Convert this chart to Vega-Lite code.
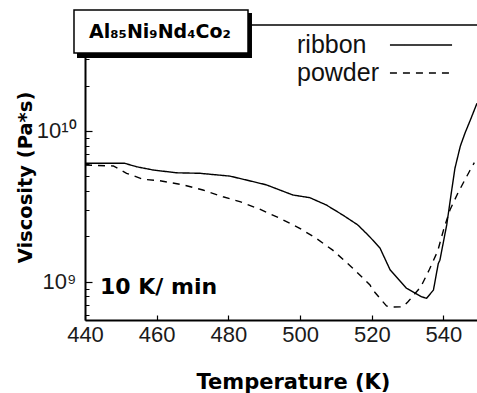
{
  "$schema": "https://vega.github.io/schema/vega-lite/v6.json",
  "width": 392,
  "height": 295,
  "autosize": {"type": "none"},
  "padding": {"left": 85, "top": 25, "right": 0, "bottom": 73},
  "background": "white",
  "config": {"view": {"stroke": null}, "font": "Liberation Sans"},
  "datasets": {
    "curves": [
      {"sample": "ribbon", "T": 440.0, "eta": 6.11e9},
      {"sample": "ribbon", "T": 451.0, "eta": 6.11e9},
      {"sample": "ribbon", "T": 454.4, "eta": 5.79e9},
      {"sample": "ribbon", "T": 459.0, "eta": 5.51e9},
      {"sample": "ribbon", "T": 465.5, "eta": 5.28e9},
      {"sample": "ribbon", "T": 472.0, "eta": 5.24e9},
      {"sample": "ribbon", "T": 480.4, "eta": 5.02e9},
      {"sample": "ribbon", "T": 485.0, "eta": 4.73e9},
      {"sample": "ribbon", "T": 490.6, "eta": 4.39e9},
      {"sample": "ribbon", "T": 498.0, "eta": 3.76e9},
      {"sample": "ribbon", "T": 502.7, "eta": 3.61e9},
      {"sample": "ribbon", "T": 507.3, "eta": 3.23e9},
      {"sample": "ribbon", "T": 511.9, "eta": 2.77e9},
      {"sample": "ribbon", "T": 516.1, "eta": 2.38e9},
      {"sample": "ribbon", "T": 519.4, "eta": 1.99e9},
      {"sample": "ribbon", "T": 522.3, "eta": 1.67e9},
      {"sample": "ribbon", "T": 525.1, "eta": 1.2e9},
      {"sample": "ribbon", "T": 529.7, "eta": 9.04e8},
      {"sample": "ribbon", "T": 533.9, "eta": 7.94e8},
      {"sample": "ribbon", "T": 535.3, "eta": 7.76e8},
      {"sample": "ribbon", "T": 537.2, "eta": 8.81e8},
      {"sample": "ribbon", "T": 538.55, "eta": 1.32e9},
      {"sample": "ribbon", "T": 539.0, "eta": 1.39e9},
      {"sample": "ribbon", "T": 540.9, "eta": 2.38e9},
      {"sample": "ribbon", "T": 542.3, "eta": 4.06e9},
      {"sample": "ribbon", "T": 543.2, "eta": 5.66e9},
      {"sample": "ribbon", "T": 544.7, "eta": 7.94e9},
      {"sample": "ribbon", "T": 546.0, "eta": 9.68e9},
      {"sample": "ribbon", "T": 547.5, "eta": 1.183e10},
      {"sample": "ribbon", "T": 549.35, "eta": 1.528e10},
      {"sample": "powder", "T": 440.0, "eta": 5.94e9},
      {"sample": "powder", "T": 447.9, "eta": 5.86e9},
      {"sample": "powder", "T": 451.6, "eta": 5.24e9},
      {"sample": "powder", "T": 456.2, "eta": 4.78e9},
      {"sample": "powder", "T": 460.9, "eta": 4.68e9},
      {"sample": "powder", "T": 467.4, "eta": 4.39e9},
      {"sample": "powder", "T": 472.9, "eta": 4.06e9},
      {"sample": "powder", "T": 478.5, "eta": 3.66e9},
      {"sample": "powder", "T": 483.2, "eta": 3.4e9},
      {"sample": "powder", "T": 488.7, "eta": 3.03e9},
      {"sample": "powder", "T": 494.3, "eta": 2.64e9},
      {"sample": "powder", "T": 499.9, "eta": 2.26e9},
      {"sample": "powder", "T": 504.5, "eta": 1.94e9},
      {"sample": "powder", "T": 509.1, "eta": 1.62e9},
      {"sample": "powder", "T": 514.7, "eta": 1.23e9},
      {"sample": "powder", "T": 519.5, "eta": 9.51e8},
      {"sample": "powder", "T": 520.3, "eta": 8.81e8},
      {"sample": "powder", "T": 524.1, "eta": 6.9e8},
      {"sample": "powder", "T": 525.5, "eta": 6.79e8},
      {"sample": "powder", "T": 528.0, "eta": 6.82e8},
      {"sample": "powder", "T": 528.9, "eta": 6.9e8},
      {"sample": "powder", "T": 530.1, "eta": 7.36e8},
      {"sample": "powder", "T": 533.7, "eta": 9.27e8},
      {"sample": "powder", "T": 536.1, "eta": 1.21e9},
      {"sample": "powder", "T": 538.4, "eta": 1.6e9},
      {"sample": "powder", "T": 540.0, "eta": 2.2e9},
      {"sample": "powder", "T": 541.8, "eta": 2.99e9},
      {"sample": "powder", "T": 544.1, "eta": 3.91e9},
      {"sample": "powder", "T": 547.3, "eta": 5.43e9},
      {"sample": "powder", "T": 548.6, "eta": 6.17e9}
    ]
  },
  "resolve": {"axis": {"y": "independent", "x": "independent"}},
  "layer": [
    {
      "data": {"values": [{}]},
      "mark": {"type": "rule", "color": "black", "strokeWidth": 1.5},
      "encoding": {
        "y": {
          "datum": 5.05e10,
          "type": "quantitative",
          "axis": {
            "orient": "left",
            "values": [6e8, 7e8, 8e8, 9e8, 2e9, 3e9, 4e9, 5e9, 6e9, 7e9, 8e9, 9e9, 2e10, 3e10, 4e10],
            "labels": false,
            "domain": false,
            "grid": false,
            "title": null,
            "tickSize": -4,
            "tickColor": "black",
            "tickWidth": 1
          }
        }
      }
    },
    {
      "data": {"name": "curves"},
      "mark": {"type": "line", "color": "black", "strokeWidth": 1.4},
      "encoding": {
        "x": {
          "field": "T",
          "type": "quantitative",
          "scale": {"domain": [440, 549.35], "nice": false, "zero": false},
          "axis": {
            "orient": "bottom",
            "values": [440, 460, 480, 500, 520, 540],
            "title": "Temperature (K)",
            "titleFont": "DejaVu Sans",
            "titleFontWeight": "bold",
            "titleFontSize": 21,
            "titleColor": "black",
            "titleX": 208,
            "titleY": 68,
            "titleAlign": "center",
            "titleBaseline": "alphabetic",
            "labelFont": "Liberation Sans",
            "labelFontSize": 22,
            "labelColor": "#1a1a1a",
            "labelPadding": 9,
            "labelFlush": false,
            "tickSize": -5,
            "tickColor": "black",
            "tickWidth": 1.2,
            "domainColor": "black",
            "domainWidth": 2,
            "grid": false
          }
        },
        "y": {
          "field": "eta",
          "type": "quantitative",
          "scale": {"type": "log", "domain": [5.57e8, 5.05e10], "nice": false},
          "axis": {
            "orient": "left",
            "values": [1e9, 1e10],
            "labelExpr": "datum.value < 5e9 ? '10⁹' : '10¹⁰'",
            "title": "Viscosity (Pa*s)",
            "titleFont": "DejaVu Sans",
            "titleFontWeight": "bold",
            "titleFontSize": 19.5,
            "titleColor": "black",
            "titleX": -60,
            "titleY": 152,
            "titleAngle": -90,
            "titleAlign": "center",
            "titleBaseline": "middle",
            "labelFont": "Liberation Sans",
            "labelFontSize": 22,
            "labelColor": "#1a1a1a",
            "labelPadding": 16,
            "tickSize": -7,
            "tickColor": "black",
            "tickWidth": 1.2,
            "domainColor": "black",
            "domainWidth": 2,
            "grid": false
          }
        },
        "strokeDash": {
          "field": "sample",
          "type": "nominal",
          "scale": {"domain": ["ribbon", "powder"], "range": [[1, 0], [7, 6]]},
          "legend": {
            "title": null,
            "orient": "none",
            "legendX": 321.5,
            "legendY": 5.5,
            "padding": 0,
            "offset": 0,
            "rowPadding": 0,
            "symbolType": "M -2.3 0 L 2.3 0",
            "symbolSize": 729,
            "symbolStrokeWidth": 1.4,
            "symbolStrokeColor": "black",
            "symbolFillColor": "transparent",
            "labelFont": "Liberation Sans",
            "labelFontSize": 25,
            "labelColor": "#111111",
            "labelOffset": -138.5,
            "labelAlign": "left",
            "labelBaseline": "middle",
            "encode": {
              "symbols": {
                "update": {
                  "strokeDash": {"signal": "datum.value === 'powder' ? [3, 2.5] : [1, 0]"}
                }
              }
            }
          }
        }
      }
    },
    {
      "data": {"values": [{}]},
      "mark": {"type": "rect", "color": "black"},
      "encoding": {
        "x": {"datum": 437.77, "type": "quantitative", "axis": null},
        "x2": {"datum": 486.58},
        "y": {"datum": 6.067e10, "type": "quantitative", "axis": null},
        "y2": {"datum": 3.051e10}
      }
    },
    {
      "data": {"values": [{}]},
      "mark": {"type": "rect", "fill": "white", "stroke": "black", "strokeWidth": 1.5},
      "encoding": {
        "x": {"datum": 436.93, "type": "quantitative", "axis": null},
        "x2": {"datum": 485.47},
        "y": {"datum": 6.35e10, "type": "quantitative", "axis": null},
        "y2": {"datum": 3.294e10}
      }
    },
    {
      "data": {"values": [{"label": "Al₈₅Ni₉Nd₄Co₂"}]},
      "mark": {"type": "text", "font": "DejaVu Sans", "fontWeight": "bold", "fontSize": 19, "color": "black", "align": "center", "baseline": "alphabetic"},
      "encoding": {
        "x": {"datum": 460.9, "type": "quantitative", "axis": null},
        "y": {"datum": 4.11e10, "type": "quantitative", "axis": null},
        "text": {"field": "label"}
      }
    },
    {
      "data": {"values": [{"label": "10 K/ min"}]},
      "mark": {"type": "text", "font": "DejaVu Sans", "fontWeight": "bold", "fontSize": 22, "color": "black", "align": "left", "baseline": "alphabetic"},
      "encoding": {
        "x": {"datum": 444.18, "type": "quantitative", "axis": null},
        "y": {"datum": 8.29e8, "type": "quantitative", "axis": null},
        "text": {"field": "label"}
      }
    }
  ]
}
